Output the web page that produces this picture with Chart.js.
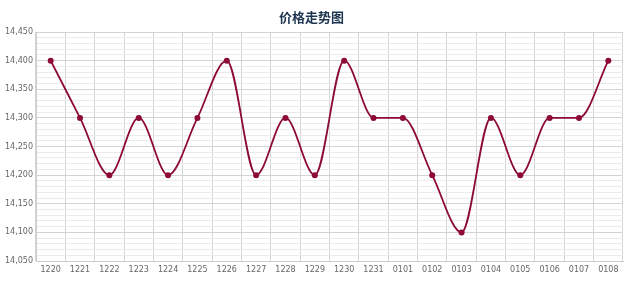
<!DOCTYPE html>
<html>
<head>
<meta charset="utf-8">
<script src="https://cdn.jsdelivr.net/npm/chart.js@4.4.0/dist/chart.umd.min.js"></script>
<style>
  html, body { margin: 0; padding: 0; background: #fff; }
  canvas { display: block; }
</style>
</head>
<body>
<canvas id="chart" width="640" height="282"></canvas>
<script>
"use strict";
const dates = ["1220", "1221", "1222", "1223", "1224", "1225", "1226", "1227", "1228", "1229",
  "1230", "1231", "0101", "0102", "0103", "0104", "0105", "0106", "0107", "0108"];
const prices = [14400, 14300, 14200, 14300, 14200, 14300, 14400, 14200, 14300, 14200,
  14400, 14300, 14300, 14200, 14100, 14300, 14200, 14300, 14300, 14400];
const yMin = 14050;
const yMax = 14450;

const lineColor = "#8c0a35";

function fmt(v) {
  return String(v).replace(/\B(?=(\d{3})+(?!\d))/g, ",");
}

const ctx = document.getElementById("chart").getContext("2d");
const chart = new Chart(ctx, {
  type: "line",
  data: {
    labels: dates,
    datasets: [
      {
        label: "价格",
        data: prices,
        borderColor: lineColor,
        backgroundColor: lineColor,
        borderWidth: 1.8,
        cubicInterpolationMode: "monotone",
        pointRadius: 3,
        pointBorderWidth: 0,
        pointBackgroundColor: lineColor,
      },
    ],
  },
  options: {
    responsive: false,
    animation: false,
    layout: { padding: { left: 0, right: 17, top: 0, bottom: 0 } },
    plugins: {
      legend: { display: false },
      tooltip: { enabled: false },
      title: {
        display: true,
        text: "价格走势图",
        color: "#1d3550",
        font: { size: 13, weight: "bold", family: "'Noto Sans CJK SC', sans-serif" },
        padding: { top: 9, bottom: 7.4 },
      },
    },
    scales: {
      x: {
        offset: true,
        grid: { offset: true, color: "#d4d4d4", drawTicks: false },
        border: { color: "#cccccc" },
        ticks: {
          color: "#666",
          font: { size: 8, family: "'DejaVu Sans', sans-serif" },
          padding: 4,
          maxRotation: 0,
          autoSkip: false,
        },
        afterFit: (s) => { s.height = 21; },
      },
      y: {
        min: yMin,
        max: yMax,
        grid: {
          drawTicks: false,
          color: (c) => (c.tick && c.tick.value % 50 === 0 ? "#d4d4d4" : "#ebebeb"),
        },
        border: { color: "#cccccc" },
        ticks: {
          stepSize: 10,
          autoSkip: false,
          color: "#666",
          font: { size: 8, family: "'DejaVu Sans', sans-serif" },
          padding: 3,
          callback: (v) => (v % 50 === 0 ? fmt(v) : ""),
        },
        afterFit: (s) => { s.width = 36; },
      },
    },
  },
});
</script>
</body>
</html>
